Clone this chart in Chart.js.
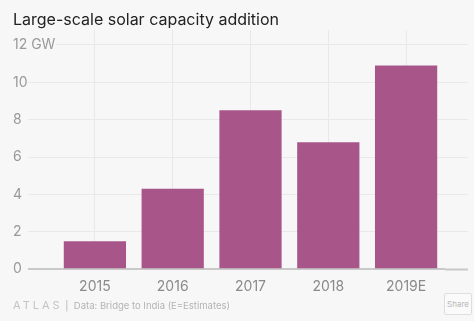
<!DOCTYPE html>
<html>
<head>
<meta charset="utf-8">
<script src="https://cdn.jsdelivr.net/npm/chart.js@4/dist/chart.umd.min.js"></script>
<style>
  body { margin: 0; background: #f7f7f7; font-family: Inter, "Noto Sans", sans-serif; }
  #wrap { position: absolute; left: 0; top: 0; width: 474px; height: 321px; }
  #title { position: absolute; left: 13px; top: 9px; font-size: 16px; color: #222; }
  #foot { position: absolute; left: 13px; top: 298px; font-size: 9.5px; color: #b4b4b4; white-space: nowrap; }
  #foot .logo { letter-spacing: 3px; font-size: 11px; color: #c4c4c4; }
  #share { position: absolute; left: 444px; top: 293px; width: 26px; height: 20px; border: 1px solid #dedede;
           border-radius: 2px; font-size: 8px; color: #b8b8b8; text-align: center; line-height: 20px; background: #fafafa; }
</style>
</head>
<body>
<div id="wrap"><canvas id="solar_chart" width="474" height="321"></canvas></div>
<div id="title">Large-scale solar capacity addition</div>
<div id="foot"><span class="logo">ATLAS</span> | &nbsp;Data: Bridge to India (E=Estimates)</div>
<div id="share">Share</div>
<script>
var years = ['2015', '2016', '2017', '2018', '2019E'];
var capacityGW = [1.5, 4.3, 8.5, 6.8, 10.9];
var yTicks = [0, 2, 4, 6, 8, 10, 12];

var gridColor = '#e9e9e9';
var baseColor = '#c9c9c9';

function tickList(axis) {
    axis.ticks = yTicks.map(function (v) { return { value: v }; });
}

var ctx = document.getElementById('solar_chart').getContext('2d');
var myChart = new Chart(ctx, {
    type: 'bar',
    data: {
        labels: years,
        datasets: [{
            data: capacityGW,
            backgroundColor: '#a8568a',
            borderWidth: 0,
            barPercentage: 0.8,
            categoryPercentage: 1.0
        }]
    },
    options: {
        responsive: false,
        animation: false,
        layout: { padding: { left: 13, right: 6, top: 30, bottom: 17 } },
        plugins: {
            legend: { display: false },
            tooltip: { enabled: false }
        },
        scales: {
            x: {
                offset: true,
                border: { display: false },
                grid: { offset: false, color: gridColor, drawTicks: false },
                ticks: { padding: 9, color: '#8a8a8a', font: { size: 14, family: 'Inter' } }
            },
            y: {
                min: 0,
                max: 12.8,
                border: { display: false },
                afterBuildTicks: tickList,
                afterFit: function (axis) { axis.width = 43; },
                grid: {
                    tickLength: 28,
                    color: function (c) { return c.tick && c.tick.value === 0 ? baseColor : gridColor; },
                    lineWidth: function (c) { return c.tick && c.tick.value === 0 ? 2 : 1; },
                    tickColor: function (c) {
                        if (c.tick && c.tick.value === 12) return 'rgba(0,0,0,0)';
                        return c.tick && c.tick.value === 0 ? baseColor : gridColor;
                    }
                },
                ticks: {
                    crossAlign: 'far',
                    padding: 0,
                    color: '#999',
                    font: { size: 14, family: 'Inter' },
                    callback: function (v) { return v === 12 ? '12 GW' : v; }
                }
            },
            y2: {
                position: 'right',
                min: 0,
                max: 12.8,
                border: { display: false },
                afterBuildTicks: tickList,
                grid: {
                    drawOnChartArea: false,
                    tickLength: 23,
                    tickColor: function (c) { return c.tick && c.tick.value === 0 ? baseColor : gridColor; },
                    tickWidth: function (c) { return c.tick && c.tick.value === 0 ? 2 : 1; }
                },
                ticks: { display: false }
            }
        }
    }
});
</script>
</body>
</html>
